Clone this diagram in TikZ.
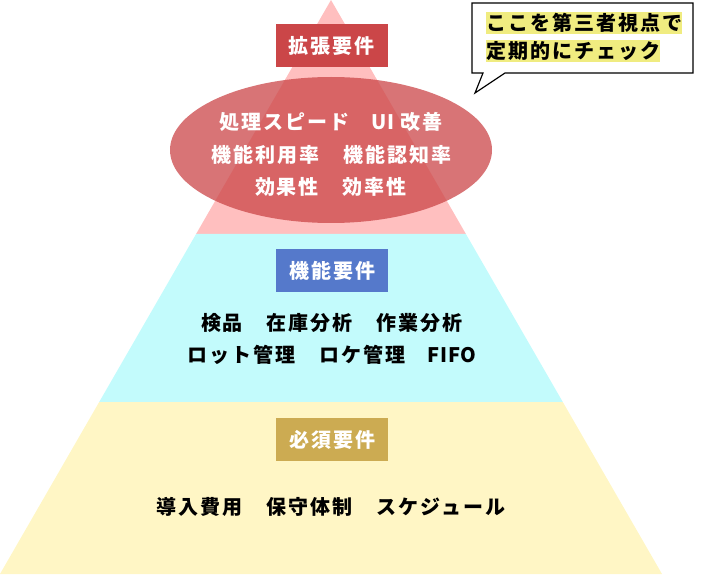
\documentclass[tikz,border=0pt]{standalone}
\usepackage{fontspec}
\setmainfont{Noto Sans CJK JP}[LetterSpace=10]
\newfontfamily\latinfont{Noto Sans CJK JP}[LetterSpace=3]
\usepackage{tikz}
\usetikzlibrary{positioning,calc}
\definecolor{pyrtop}{HTML}{FFBFBF}
\definecolor{pyrmid}{HTML}{C3FBFC}
\definecolor{pyrbot}{HTML}{FFF6C5}
\definecolor{tagred}{HTML}{CB4648}
\definecolor{tagblue}{HTML}{5579CB}
\definecolor{taggold}{HTML}{CCAB52}
\definecolor{marker}{HTML}{F0EC80}

\begin{document}
\begin{tikzpicture}[
  x=1pt, y=-1pt,
  tag/.style={fill=#1, text=white, font=\fontsize{20}{24}\selectfont\bfseries,
    minimum width=112pt, minimum height=43pt, inner sep=0pt},
  items/.style={align=center, font=\fontsize{20}{32.5}\selectfont\bfseries, inner sep=0pt},
  hl/.style={fill=marker, anchor=west, inner xsep=0pt, inner ysep=1pt,
    font=\fontsize{20}{24}\selectfont\bfseries},
]
\useasboundingbox (0,0) rectangle (705,575);
% pyramid corners
\coordinate (apex) at (331,0);
\coordinate (bl) at (0,574);
\coordinate (br) at (662,574);
\coordinate (ul) at (196.1,234);
\coordinate (ur) at (465.9,234);
\coordinate (ml) at (99.2,402);
\coordinate (mr) at (562.8,402);
\fill[pyrtop] (apex) -- (ur) -- (ul) -- cycle;
\fill[pyrmid] (ul) -- (ur) -- (mr) -- (ml) -- cycle;
\fill[pyrbot] (ml) -- (mr) -- (br) -- (bl) -- cycle;
% top tier
\fill[tagred, opacity=0.75] (331,150) ellipse [x radius=161, y radius=73];
\node[tag=tagred] (ext) at (331.5,45.5) {拡張要件};
\node[items, text=white] (extitems) at (331,154.5)
  {処理スピード　{\latinfont\bfseries UI} 改善\\機能利用率　機能認知率\\効果性　効率性};
% middle tier
\node[tag=tagblue] (func) at (332,270.5) {機能要件};
\node[items] (funcitems) at (332,339)
  {検品　在庫分析　作業分析\\ロット管理　ロケ管理　{\latinfont\bfseries FIFO}};
% bottom tier
\node[tag=taggold] (must) at (332,439.5) {必須要件};
\node[items] (mustitems) at (331,507) {導入費用　保守体制　スケジュール};
% callout
\draw[line width=1.2pt, fill=white] (472,3) -- (693,3) -- (693,73) -- (505,73)
  -- (475,93) -- (483,73) -- (472,73) -- cycle;
\node[hl] (note1) at (486,23) {ここを第三者視点で};
\node[hl] (note2) at (486,51) {定期的にチェック};
\end{tikzpicture}
\end{document}
